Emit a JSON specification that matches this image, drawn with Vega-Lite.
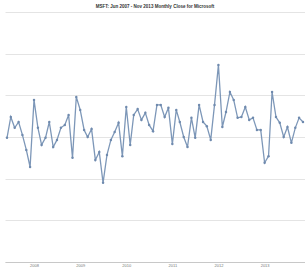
{
  "$schema": "https://vega.github.io/schema/vega-lite/v6.json",
  "width": 300,
  "height": 250,
  "autosize": "none",
  "padding": {"left": 5, "top": 12, "right": 0, "bottom": 10},
  "background": "white",
  "title": {
    "text": "MSFT: Jun 2007 - Nov 2013 Monthly Close for Microsoft",
    "fontSize": 4.5,
    "fontWeight": "bold",
    "color": "#333333",
    "font": "Liberation Sans",
    "anchor": "middle",
    "offset": 4
  },
  "data": {
    "values": [
      {"month": "2007-06-01", "close": 29.8},
      {"month": "2007-07-01", "close": 34.8},
      {"month": "2007-08-01", "close": 32.2},
      {"month": "2007-09-01", "close": 33.6},
      {"month": "2007-10-01", "close": 30.5},
      {"month": "2007-11-01", "close": 26.9},
      {"month": "2007-12-01", "close": 22.8},
      {"month": "2008-01-01", "close": 38.9},
      {"month": "2008-02-01", "close": 32.2},
      {"month": "2008-03-01", "close": 28.1},
      {"month": "2008-04-01", "close": 29.8},
      {"month": "2008-05-01", "close": 33.6},
      {"month": "2008-06-01", "close": 27.6},
      {"month": "2008-07-01", "close": 29.3},
      {"month": "2008-08-01", "close": 32.2},
      {"month": "2008-09-01", "close": 32.9},
      {"month": "2008-10-01", "close": 35.3},
      {"month": "2008-11-01", "close": 25.0},
      {"month": "2008-12-01", "close": 39.6},
      {"month": "2009-01-01", "close": 36.5},
      {"month": "2009-02-01", "close": 31.7},
      {"month": "2009-03-01", "close": 30.0},
      {"month": "2009-04-01", "close": 31.9},
      {"month": "2009-05-01", "close": 24.5},
      {"month": "2009-06-01", "close": 26.4},
      {"month": "2009-07-01", "close": 19.0},
      {"month": "2009-08-01", "close": 25.7},
      {"month": "2009-09-01", "close": 29.3},
      {"month": "2009-10-01", "close": 31.2},
      {"month": "2009-11-01", "close": 33.4},
      {"month": "2009-12-01", "close": 25.4},
      {"month": "2010-01-01", "close": 37.2},
      {"month": "2010-02-01", "close": 28.1},
      {"month": "2010-03-01", "close": 35.3},
      {"month": "2010-04-01", "close": 36.7},
      {"month": "2010-05-01", "close": 34.1},
      {"month": "2010-06-01", "close": 35.8},
      {"month": "2010-07-01", "close": 32.9},
      {"month": "2010-08-01", "close": 31.4},
      {"month": "2010-09-01", "close": 37.7},
      {"month": "2010-10-01", "close": 37.7},
      {"month": "2010-11-01", "close": 34.8},
      {"month": "2010-12-01", "close": 37.0},
      {"month": "2011-01-01", "close": 28.3},
      {"month": "2011-02-01", "close": 36.5},
      {"month": "2011-03-01", "close": 33.6},
      {"month": "2011-04-01", "close": 30.0},
      {"month": "2011-05-01", "close": 27.6},
      {"month": "2011-06-01", "close": 34.6},
      {"month": "2011-07-01", "close": 29.8},
      {"month": "2011-08-01", "close": 37.7},
      {"month": "2011-09-01", "close": 33.6},
      {"month": "2011-10-01", "close": 32.6},
      {"month": "2011-11-01", "close": 29.3},
      {"month": "2011-12-01", "close": 37.7},
      {"month": "2012-01-01", "close": 47.3},
      {"month": "2012-02-01", "close": 32.4},
      {"month": "2012-03-01", "close": 36.0},
      {"month": "2012-04-01", "close": 40.8},
      {"month": "2012-05-01", "close": 38.9},
      {"month": "2012-06-01", "close": 34.6},
      {"month": "2012-07-01", "close": 34.8},
      {"month": "2012-08-01", "close": 37.2},
      {"month": "2012-09-01", "close": 34.1},
      {"month": "2012-10-01", "close": 34.6},
      {"month": "2012-11-01", "close": 31.7},
      {"month": "2012-12-01", "close": 31.7},
      {"month": "2013-01-01", "close": 23.8},
      {"month": "2013-02-01", "close": 25.4},
      {"month": "2013-03-01", "close": 40.8},
      {"month": "2013-04-01", "close": 34.8},
      {"month": "2013-05-01", "close": 33.4},
      {"month": "2013-06-01", "close": 30.0},
      {"month": "2013-07-01", "close": 32.4},
      {"month": "2013-08-01", "close": 28.6},
      {"month": "2013-09-01", "close": 32.2},
      {"month": "2013-10-01", "close": 34.6},
      {"month": "2013-11-01", "close": 33.6}
    ]
  },
  "mark": {"type": "line", "color": "#7d97b8", "strokeWidth": 1.3, "point": {"filled": true, "size": 6, "color": "#6f8aae"}},
  "encoding": {
    "x": {
      "field": "month",
      "type": "temporal",
      "scale": {"padding": 2},
      "axis": {
        "title": null,
        "format": "%Y",
        "tickCount": {"interval": "year", "step": 1},
        "labelFontSize": 4,
        "labelColor": "#777777",
        "labelPadding": 1,
        "ticks": false,
        "domain": true,
        "domainColor": "#c8c8c8",
        "grid": false
      }
    },
    "y": {
      "field": "close",
      "type": "quantitative",
      "scale": {"domain": [0, 60], "nice": false},
      "axis": {
        "title": null,
        "labels": false,
        "ticks": false,
        "domain": false,
        "values": [0, 10, 20, 30, 40, 50, 60],
        "gridColor": "#e4e4e4",
        "gridWidth": 1
      }
    }
  },
  "config": {"view": {"stroke": null}}
}
